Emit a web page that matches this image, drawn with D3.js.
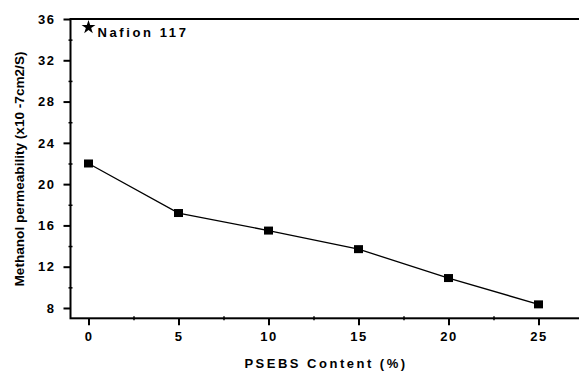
<!DOCTYPE html>
<html>
<head>
<meta charset="utf-8">
<script src="https://cdn.jsdelivr.net/npm/d3@7"></script>
<style>
  html, body { margin: 0; padding: 0; background: #fff; }
  svg { display: block; }
  text { font-family: "Liberation Sans", Arial, sans-serif; font-weight: bold; fill: #000; }
</style>
</head>
<body>
<svg id="chart" width="579" height="375"></svg>
<script>
// PSEBS content (%) and measured methanol permeability (x10^-7 cm2/s)
const content = [0, 5, 10, 15, 20, 25];
const permeability = [22.0, 17.2, 15.5, 13.7, 10.9, 8.35];

// Reference membrane
const refLabel = "Nafion 117";
const refContent = [0];
const refPermeability = [35.2];

const xTicks = [0, 5, 10, 15, 20, 25];
const xMinorTicks = [2.5, 7.5, 12.5, 17.5, 22.5, 27.5];
const yTicks = [8, 12, 16, 20, 24, 28, 32, 36];
const yMinorTicks = [10, 14, 18, 22, 26, 30, 34];

const xTitle = "PSEBS Content (%)";
const yTitle = "Methanol permeability (x10 -7cm2/S)";

(function draw() {
  const svg = d3.select("#chart");

  const x = d3.scaleLinear().domain([-1, 28]).range([70.5, 592.5]);
  const y = d3.scaleLinear().domain([7, 36]).range([318.3, 19]);

  const plotLeft = x.range()[0], plotRight = x.range()[1];
  const plotBottom = y.range()[0], plotTop = y.range()[1];

  // Plot frame
  svg.append("rect")
    .attr("x", plotLeft).attr("y", plotTop)
    .attr("width", plotRight - plotLeft).attr("height", plotBottom - plotTop)
    .attr("fill", "none").attr("stroke", "#000").attr("stroke-width", 2);

  // X axis
  const xAxis = svg.append("g").attr("transform", `translate(0,${plotBottom})`)
    .call(d3.axisBottom(x).tickValues(xTicks).tickSize(7).tickPadding(6).tickFormat(d3.format("d")));
  xAxis.select(".domain").remove();
  xAxis.selectAll(".tick line").attr("stroke", "#000").attr("stroke-width", 2);
  xAxis.selectAll(".tick text")
    .attr("font-size", 13).attr("letter-spacing", "1.5px")
    .style("font-family", "'Liberation Sans', Arial, sans-serif").style("font-weight", "bold");

  const xMinor = svg.append("g").attr("transform", `translate(0,${plotBottom})`)
    .call(d3.axisBottom(x).tickValues(xMinorTicks).tickSize(2).tickFormat(""));
  xMinor.select(".domain").remove();
  xMinor.selectAll(".tick line").attr("y1", -2).attr("stroke", "#000").attr("stroke-width", 1.5);

  // Y axis
  const yAxis = svg.append("g").attr("transform", `translate(${plotLeft},0)`)
    .call(d3.axisLeft(y).tickValues(yTicks).tickSize(7).tickPadding(8).tickFormat(d3.format("d")));
  yAxis.select(".domain").remove();
  yAxis.selectAll(".tick line").attr("stroke", "#000").attr("stroke-width", 2);
  yAxis.selectAll(".tick text")
    .attr("font-size", 13).attr("letter-spacing", "1.5px")
    .style("font-family", "'Liberation Sans', Arial, sans-serif").style("font-weight", "bold");

  const yMinor = svg.append("g").attr("transform", `translate(${plotLeft},0)`)
    .call(d3.axisLeft(y).tickValues(yMinorTicks).tickSize(2).tickFormat(""));
  yMinor.select(".domain").remove();
  yMinor.selectAll(".tick line").attr("x1", 2).attr("stroke", "#000").attr("stroke-width", 1.5);

  // Series line and square markers
  const pts = content.map((c, i) => [c, permeability[i]]);
  svg.append("path")
    .datum(pts)
    .attr("fill", "none").attr("stroke", "#000").attr("stroke-width", 1.3)
    .attr("d", d3.line().x(d => x(d[0])).y(d => y(d[1])));

  svg.selectAll("rect.marker")
    .data(pts).enter().append("rect")
    .attr("class", "marker")
    .attr("x", d => x(d[0]) - 4.5).attr("y", d => y(d[1]) - 4)
    .attr("width", 9).attr("height", 8)
    .attr("fill", "#000");

  // Reference point (star) with label
  const refPts = refContent.map((c, i) => [c, refPermeability[i]]);
  svg.selectAll("path.ref")
    .data(refPts).enter().append("path")
    .attr("class", "ref")
    .attr("transform", d => `translate(${x(d[0])},${y(d[1])})`)
    .attr("d", d3.symbol(d3.symbolStar, 60))
    .attr("fill", "#000");

  svg.append("text")
    .attr("x", x(refContent[0]) + 9).attr("y", y(refPermeability[0]) + 10)
    .attr("font-size", 13).attr("letter-spacing", "2.6px")
    .text(refLabel);

  // Axis titles
  svg.append("text")
    .attr("x", 326).attr("y", 368)
    .attr("text-anchor", "middle")
    .attr("font-size", 13).attr("letter-spacing", "2.5px")
    .text(xTitle);

  svg.append("text")
    .attr("transform", "translate(24,169) rotate(-90)")
    .attr("text-anchor", "middle")
    .attr("font-size", 13.6)
    .text(yTitle);
})();
</script>
</body>
</html>
